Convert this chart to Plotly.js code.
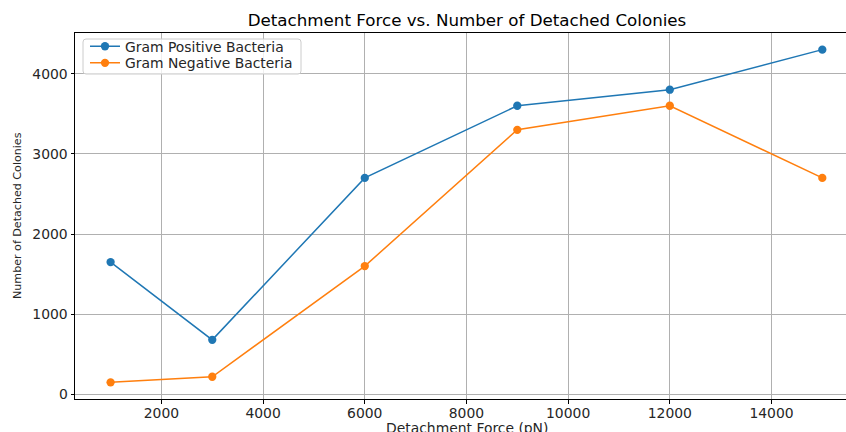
<!DOCTYPE html>
<html>
<head>
<meta charset="utf-8">
<script src="https://cdn.plot.ly/plotly-3.0.1.min.js"></script>
<style>
  html, body { margin: 0; padding: 0; background: #ffffff; }
  #chart { width: 846px; height: 432px; }
</style>
</head>
<body>
<div id="chart"></div>
<script>
const forces = [1000, 3000, 6000, 9000, 12000, 15000];
const gramPositive = [1650, 680, 2700, 3600, 3800, 4300];
const gramNegative = [150, 220, 1600, 3300, 3600, 2700];
const xTickVals = [2000, 4000, 6000, 8000, 10000, 12000, 14000];
const xTickText = ['2000', '4000', '6000', '8000', '10000', '12000', '14000'];
const yTickVals = [0, 1000, 2000, 3000, 4000];
const yTickText = ['0', '1000', '2000', '3000', '4000'];

const FONT = 'DejaVu Sans, Verdana, sans-serif';

const traces = [
  {
    x: forces, y: gramPositive, name: 'Gram Positive Bacteria',
    type: 'scatter', mode: 'lines+markers', legend: 'legend',
    line: { color: '#1f77b4', width: 1.5 },
    marker: { color: '#1f77b4', size: 8.3 }
  },
  {
    x: forces, y: gramNegative, name: 'Gram Negative Bacteria',
    type: 'scatter', mode: 'lines+markers', legend: 'legend2',
    line: { color: '#ff7f0e', width: 1.5 },
    marker: { color: '#ff7f0e', size: 8.3 }
  }
];

// legend frame (pixel geometry converted to paper units)
const PW = 771, PH = 366, L = 75, T = 33;
const px = v => (v - L) / PW;
const py = v => (T + PH - v) / PH;
const bx0 = 83, bx1 = 301, by0 = 39, by1 = 74, r = 3;
const framePath =
  'M ' + px(bx0 + r) + ',' + py(by0) +
  ' L ' + px(bx1 - r) + ',' + py(by0) +
  ' Q ' + px(bx1) + ',' + py(by0) + ' ' + px(bx1) + ',' + py(by0 + r) +
  ' L ' + px(bx1) + ',' + py(by1 - r) +
  ' Q ' + px(bx1) + ',' + py(by1) + ' ' + px(bx1 - r) + ',' + py(by1) +
  ' L ' + px(bx0 + r) + ',' + py(by1) +
  ' Q ' + px(bx0) + ',' + py(by1) + ' ' + px(bx0) + ',' + py(by1 - r) +
  ' L ' + px(bx0) + ',' + py(by0 + r) +
  ' Q ' + px(bx0) + ',' + py(by0) + ' ' + px(bx0 + r) + ',' + py(by0) + ' Z';

const legendBase = {
  x: px(85), xanchor: 'left', yanchor: 'middle',
  bgcolor: 'rgba(0,0,0,0)', borderwidth: 0,
  font: { family: FONT, size: 13.9, color: '#262626' }
};

const layout = {
  width: 846, height: 432,
  margin: { l: 75, r: 0, t: 33, b: 33, pad: 0 },
  paper_bgcolor: '#ffffff', plot_bgcolor: '#ffffff',
  font: { family: FONT, size: 13.9, color: '#262626' },
  showlegend: true,
  title: {
    text: 'Detachment Force vs. Number of Detached Colonies',
    font: { family: FONT, size: 16.7, color: '#000000' },
    xref: 'container', x: 467 / 846, xanchor: 'center',
    yref: 'container', y: 1 - 20.5 / 432, yanchor: 'middle'
  },
  xaxis: {
    range: [300, 15466], autorange: false,
    tickmode: 'array', tickvals: xTickVals, ticktext: xTickText,
    showgrid: true, gridcolor: '#b0b0b0', gridwidth: 0.8,
    zeroline: false,
    showline: true, linecolor: '#000000', linewidth: 1, mirror: true,
    ticks: 'outside', ticklen: 3.5, tickwidth: 0.8, tickcolor: '#000000',
    ticklabelstandoff: -2,
    tickfont: { family: FONT, size: 13.9, color: '#262626' }
  },
  yaxis: {
    range: [-57.5, 4507.5], autorange: false,
    tickmode: 'array', tickvals: yTickVals, ticktext: yTickText,
    showgrid: true, gridcolor: '#b0b0b0', gridwidth: 0.8,
    zeroline: false,
    showline: true, linecolor: '#000000', linewidth: 1, mirror: false,
    ticks: 'outside', ticklen: 3.5, tickwidth: 0.8, tickcolor: '#000000',
    tickfont: { family: FONT, size: 13.9, color: '#262626' }
  },
  legend: Object.assign({}, legendBase, { y: py(46.7) }),
  legend2: Object.assign({}, legendBase, { y: py(63.3) }),
  shapes: [
    {
      type: 'path', xref: 'paper', yref: 'paper', layer: 'above',
      path: framePath,
      fillcolor: 'rgba(255,255,255,0.8)',
      line: { color: '#cccccc', width: 1 }
    }
  ],
  annotations: [
    {
      text: 'Detachment Force (pN)', showarrow: false,
      xref: 'paper', x: (467 - 75) / 771, xanchor: 'center',
      yref: 'paper', y: 0, yanchor: 'top', yshift: -19,
      font: { family: FONT, size: 13.9, color: '#262626' }
    },
    {
      text: 'Number of Detached Colonies', showarrow: false, textangle: -90,
      xref: 'paper', x: (17 - 75) / 771, xanchor: 'center',
      yref: 'paper', y: 0.5, yanchor: 'middle',
      font: { family: FONT, size: 11.1, color: '#262626' }
    }
  ]
};

Plotly.newPlot('chart', traces, layout, { displayModeBar: false, responsive: false });
</script>
</body>
</html>
